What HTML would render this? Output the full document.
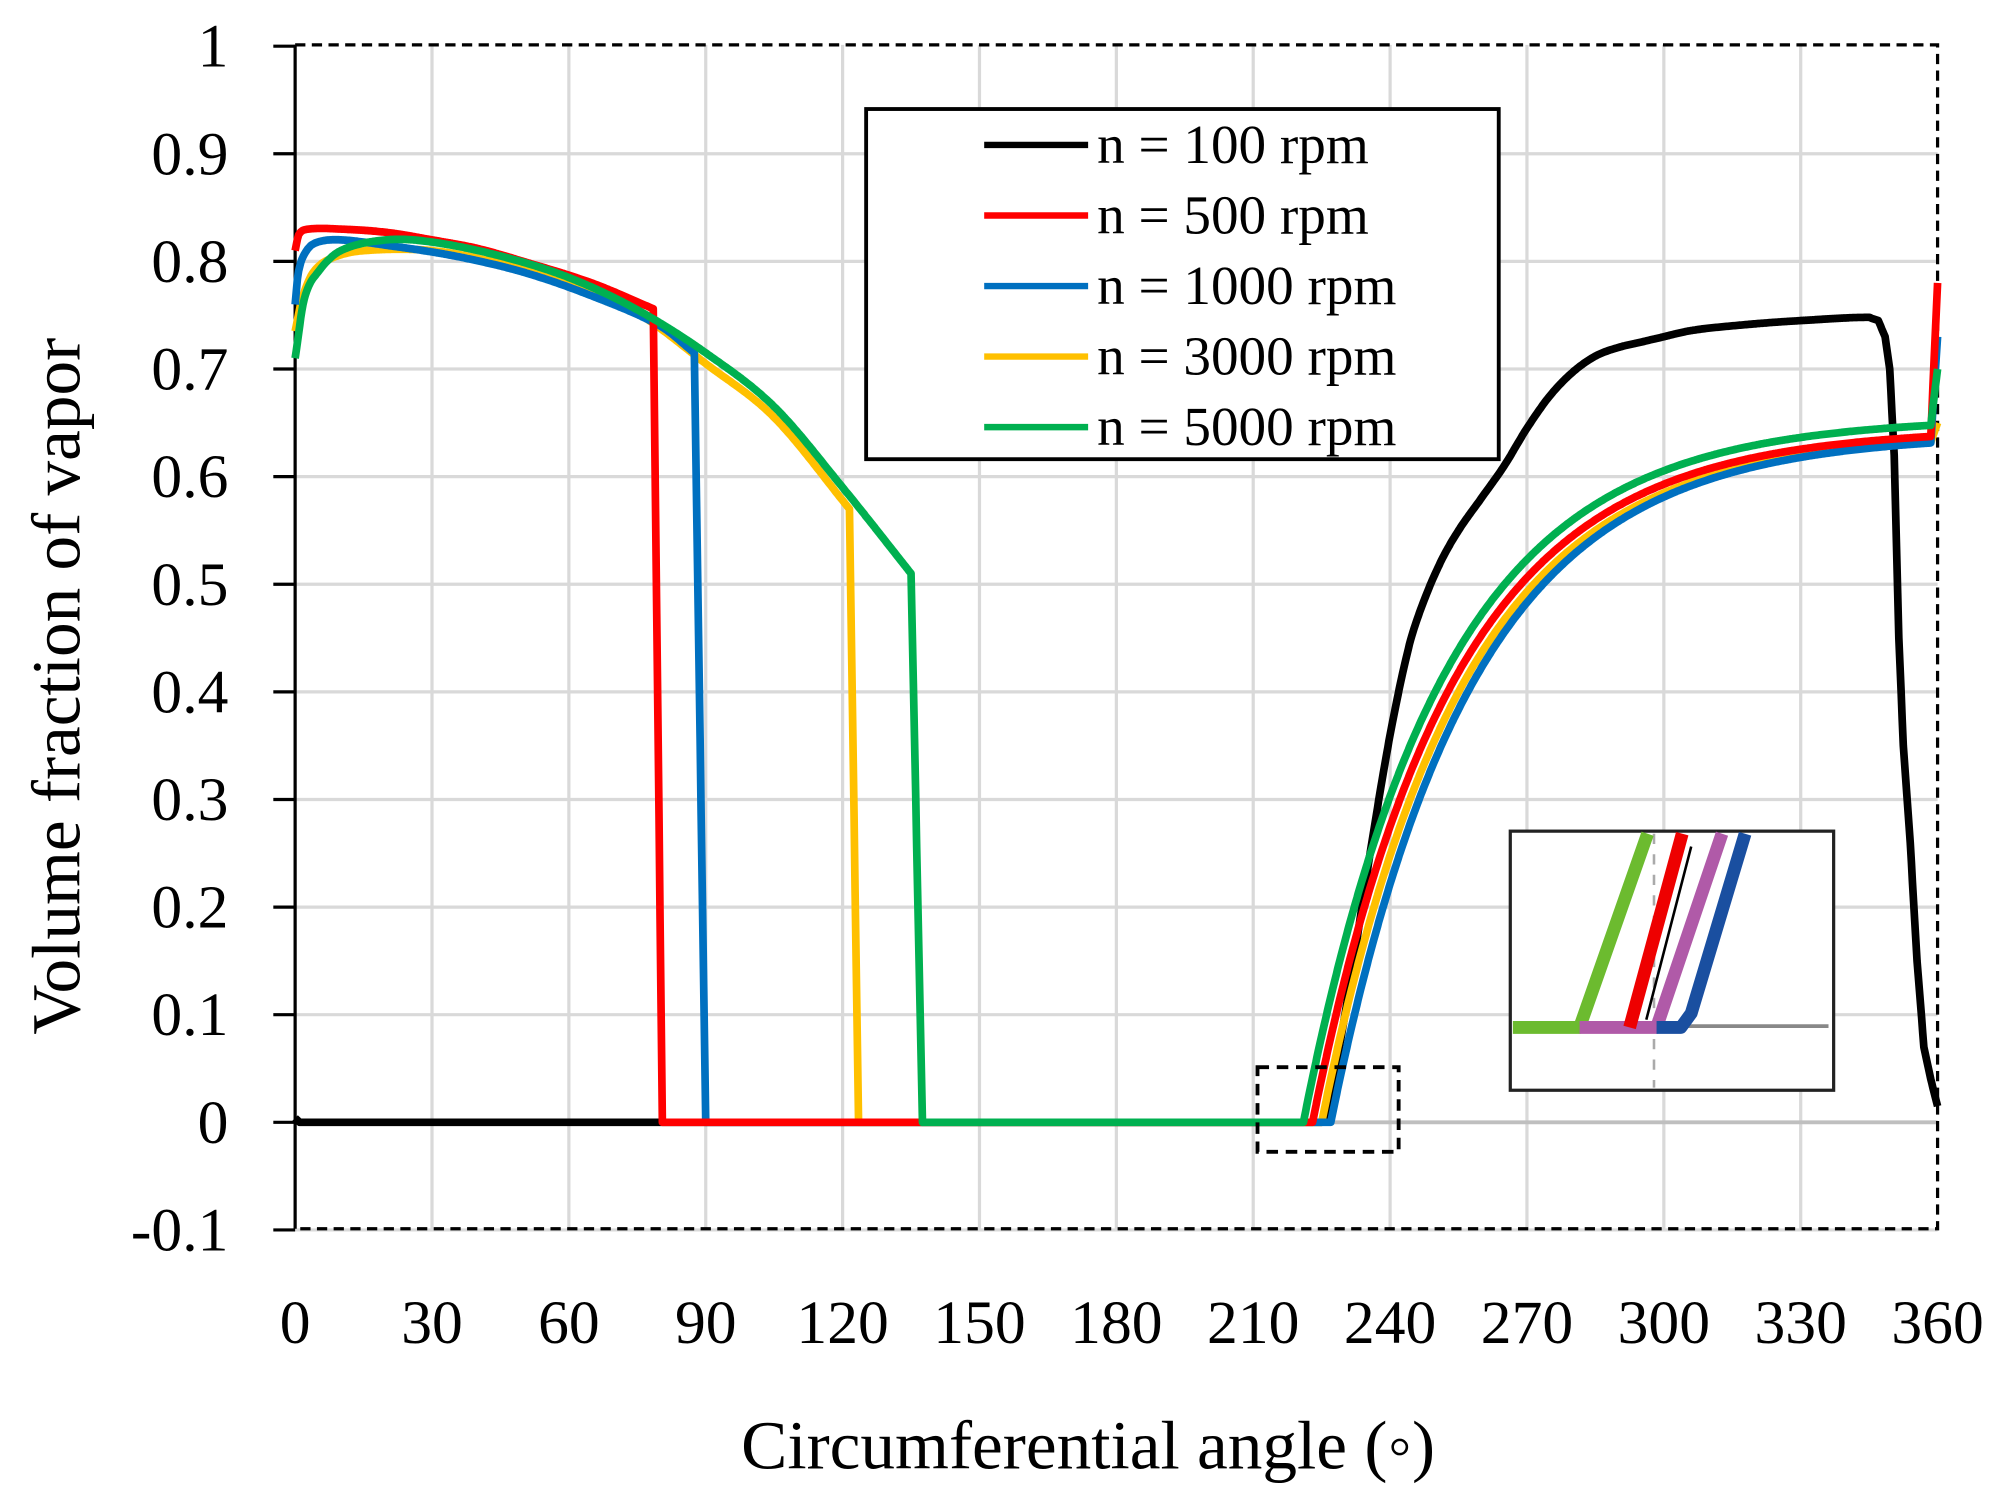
<!DOCTYPE html>
<html><head><meta charset="utf-8"><style>
html,body{margin:0;padding:0;background:#fff}
svg{display:block}
text{font-family:"Liberation Serif",serif;fill:#000}
</style></head><body>
<svg id="s" width="2012" height="1493" viewBox="0 0 1568 1164" preserveAspectRatio="none" xmlns="http://www.w3.org/2000/svg">
<rect width="1568" height="1164" fill="#fff"/>
<g id="grid" stroke="#d9d9d9" stroke-width="2.5"></g>
<line x1="230" y1="875" x2="1510" y2="875" stroke="#bfbfbf" stroke-width="3"/>
<g stroke="#000" stroke-width="2.5" fill="none">
<line x1="230" y1="35" x2="230" y2="958"/>
<path d="M230 35H1510V958H230" stroke-dasharray="8 5"/>
</g>
<g id="ticks" stroke="#000" stroke-width="2.5"></g>
<g id="labels" font-size="48"></g>
<text x="848" y="1145" font-size="54" text-anchor="middle">Circumferential angle (◦)</text>
<text transform="translate(62,535) rotate(-90)" font-size="54" text-anchor="middle">Volume fraction of vapor</text>
<g id="curves" fill="none" stroke-width="6" stroke-linejoin="round"></g>
<rect x="980" y="832" width="110" height="66" fill="none" stroke="#000" stroke-width="3" stroke-dasharray="9 6"/>
<rect x="675" y="85" width="493" height="273" fill="#fff" stroke="#000" stroke-width="3"/>
<g stroke-width="5">
<line x1="767" y1="113" x2="848" y2="113" stroke="#000"/>
<line x1="767" y1="168" x2="848" y2="168" stroke="#ff0000"/>
<line x1="767" y1="223" x2="848" y2="223" stroke="#0070c0"/>
<line x1="767" y1="278" x2="848" y2="278" stroke="#ffc000"/>
<line x1="767" y1="333" x2="848" y2="333" stroke="#00b050"/>
</g>
<g font-size="43">
<text x="855" y="127">n = 100 rpm</text>
<text x="855" y="182">n = 500 rpm</text>
<text x="855" y="237">n = 1000 rpm</text>
<text x="855" y="292">n = 3000 rpm</text>
<text x="855" y="347">n = 5000 rpm</text>
</g>
<rect x="1177" y="648" width="252" height="202" fill="#fff" stroke="#222" stroke-width="2.5"/>
<line x1="1289" y1="650" x2="1289" y2="848" stroke="#aaa" stroke-width="2" stroke-dasharray="8 8"/>
<line x1="1315" y1="800" x2="1425" y2="800" stroke="#888" stroke-width="3"/>
<g fill="none" stroke-width="10" stroke-linejoin="round">
<polyline points="1179,801 1231,801 1284,650" stroke="#6cbb2f"/>
<polyline points="1231,801 1291,801 1342,650" stroke="#b05aa8"/>
<polyline points="1270,801 1311,650" stroke="#ee0000"/>
<line x1="1283" y1="795" x2="1318" y2="660" stroke="#000" stroke-width="2"/>
<polyline points="1291,801 1310,801 1318,790 1360,650" stroke="#1a4fa0"/>
</g>
</svg>
<script>
var NS="http://www.w3.org/2000/svg";
function X(a){return 230+a*1280/360}
function Y(v){return 875-v*839}
function el(p,t,at,txt){var e=document.createElementNS(NS,t);for(var k in at)e.setAttribute(k,at[k]);if(txt!=null)e.textContent=txt;document.getElementById(p).appendChild(e);}
for(var a=30;a<=330;a+=30)el('grid','line',{x1:X(a),y1:35,x2:X(a),y2:958});
for(var i=-1;i<=9;i++){if(i==0)continue;el('grid','line',{x1:230,y1:Y(i/10),x2:1510,y2:Y(i/10)});}
for(var i=-1;i<=10;i++){el('ticks','line',{x1:213,y1:Y(i/10),x2:230,y2:Y(i/10)});
var s=i==10?"1":(i==0?"0":(i<0?"-0.1":"0."+i));el('labels','text',{x:178,y:Y(i/10)+16,'text-anchor':'end'},s);}
for(var a=0;a<=360;a+=30)el('labels','text',{x:X(a),y:1047,'text-anchor':'middle'},String(a));
function interp(pts,a){for(var i=1;i<pts.length;i++)if(a<=pts[i][0]){var p0=pts[Math.max(0,i-2)],p=pts[i-1],q=pts[i],q1=pts[Math.min(pts.length-1,i+1)];
var t=(a-p[0])/(q[0]-p[0]);var h=q[0]-p[0];
var m0=(q[1]-p0[1])/((q[0]-p0[0])||1)*h, m1=(q1[1]-p[1])/((q1[0]-p[0])||1)*h;
var t2=t*t,t3=t2*t;return (2*t3-3*t2+1)*p[1]+(t3-2*t2+t)*m0+(-2*t3+3*t2)*q[1]+(t3-t2)*m1;}return pts[pts.length-1][1];}
function lin(pts,a){for(var i=1;i<pts.length;i++)if(a<=pts[i][0]){var p=pts[i-1],q=pts[i];return p[1]+(q[1]-p[1])*(a-p[0])/(q[0]-p[0]);}return pts[pts.length-1][1];}
function series(col,head,drop,a0,asym,endv){var d=[];var hl=head[head.length-1];
for(var a=0;a<=360;a+=0.25){var v;
if(a<=hl[0])v=interp(head,a);
else if(a<drop)v=hl[1]*(1-(a-hl[0])/(drop-hl[0]));
else if(a<=a0)v=0;
else if(a<=358.5)v=asym*(1-Math.exp(-(a-a0)/30.6));
else v=lin([[358.5,asym*(1-Math.exp(-(358.5-a0)/30.6))],[360,endv]],a);
d.push(X(a).toFixed(1)+","+Y(v).toFixed(1));}
el('curves','polyline',{points:d.join(" "),stroke:col});}
(function(){var pts=[[0,0.004],[1,0],[225,0],[228,0.05],[232,0.15],[236,0.26],[240,0.36],[244,0.44],[247,0.48],[251,0.52],[255,0.55],[260,0.58],[265,0.61],[270,0.645],[275,0.675],[280,0.697],[285,0.712],[290,0.72],[295,0.725],[300,0.73],[305,0.735],[310,0.738],[320,0.742],[330,0.745],[345,0.748],[347,0.745],[348.5,0.73],[349.5,0.7],[350.5,0.62],[351.5,0.45],[352.5,0.35],[354,0.26],[355.5,0.15],[357,0.07],[358.5,0.04],[360,0.015]];
var d=[];for(var a=0;a<=360;a+=0.25){var v=(a<225||a>345)?lin(pts,a):interp(pts,a);d.push(X(a).toFixed(1)+","+Y(v).toFixed(1));}
el('curves','polyline',{points:d.join(" "),stroke:"#000"});})();
series("#ffc000",[[0,0.735],[1.5,0.765],[4,0.79],[8,0.803],[15,0.81],[30,0.81],[45,0.798],[60,0.78],[75,0.752],[90,0.705],[105,0.655],[121.5,0.57]],123.5,225,0.64,0.65);
series("#0070c0",[[0,0.76],[0.7,0.79],[2.5,0.81],[5,0.818],[10,0.82],[20,0.815],[35,0.805],[50,0.79],[65,0.768],[80,0.74],[87.5,0.715]],90,227,0.64,0.73);
series("#ff0000",[[0,0.81],[0.8,0.825],[3,0.83],[10,0.83],[20,0.827],[30,0.82],[40,0.812],[50,0.80],[65,0.78],[78.5,0.756]],80.5,223,0.645,0.78);
series("#00b050",[[0,0.71],[2,0.765],[5,0.79],[10,0.81],[20,0.82],[30,0.818],[45,0.805],[60,0.785],[75,0.755],[90,0.715],[105,0.665],[120,0.59],[135,0.51]],137.5,221,0.655,0.70);
</script>
</body></html>
